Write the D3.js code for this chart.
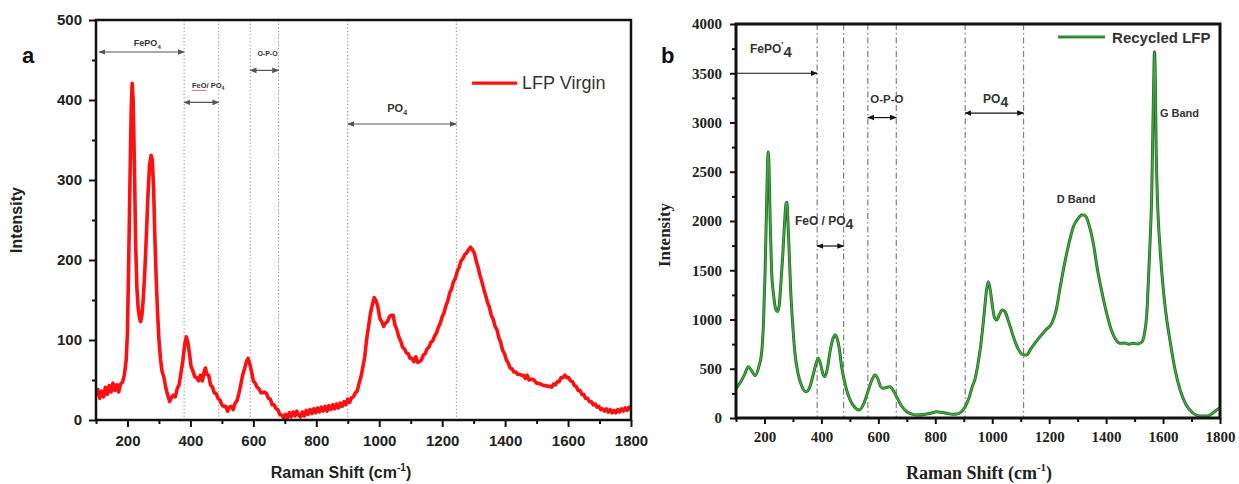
<!DOCTYPE html>
<html>
<head>
<meta charset="utf-8">
<script src="https://cdn.jsdelivr.net/npm/d3@7"></script>
<style>
  body { margin: 0; background: #fff; }
  svg { display: block; }
</style>
</head>
<body>
<div id="chart"></div>
<script>
// Raman spectra, [shift cm-1, intensity]
const virginSpectrum = [
  [100,30],[106,38],[112,27],[118,36],[124,29],[130,41],[136,32],[142,43],[148,35],[154,46],[160,37],[166,44],[172,35],[178,45],
  [184,47],[190,56],[196,75],[200,110],[204,200],[208,300],[212,390],[215,421],[218,400],[222,320],[226,220],[230,165],[234,140],
  [238,128],[242,123],[246,131],[250,150],[255,185],[260,230],[265,280],[270,318],[275,331],[279,325],[283,290],[287,230],[291,180],
  [295,140],[300,100],[305,76],[310,61],[316,53],[322,40],[328,31],[334,23],[340,28],[346,31],[352,29],[358,39],[364,44],[370,59],
  [376,74],[382,95],[387,104],[392,97],[397,83],[402,67],[408,61],[414,54],[420,53],[426,49],[432,56],[438,49],[444,61],[448,65],
  [452,57],[458,56],[464,44],[470,41],[476,34],[482,33],[488,27],[494,25],[500,19],[506,17],[512,17],[518,11],[524,16],[530,17],
  [536,13],[542,21],[548,24],[554,33],[560,44],[566,56],[572,64],[578,73],[583,77],[588,71],[594,61],[600,49],[606,46],[612,41],
  [618,39],[624,34],[630,34],[636,35],[642,33],[648,27],[654,26],[660,19],[666,19],[672,14],[678,13],[684,7],[690,6],[696,3],
  [702,7],[708,2],[714,9],[720,4],[726,10],[732,5],[738,11],[744,6],[750,4],[756,10],[762,5],[768,12],[774,7],[780,13],[786,8],
  [792,14],[798,9],[804,15],[810,10],[816,16],[822,11],[828,17],[834,11],[840,18],[846,13],[852,19],[858,14],[864,20],[870,15],
  [876,21],[882,17],[888,23],[894,19],[900,26],[906,22],[912,28],[918,29],[924,34],[930,36],[936,46],[942,54],[948,66],[954,79],
  [960,101],[966,117],[972,133],[978,144],[984,153],[990,149],[996,141],[1002,127],[1008,123],[1014,117],[1020,121],[1026,123],
  [1032,129],[1038,131],[1044,131],[1050,119],[1056,113],[1062,104],[1068,99],[1074,91],[1080,89],[1086,84],[1092,83],[1098,77],
  [1104,77],[1110,73],[1116,79],[1122,72],[1128,73],[1134,75],[1140,81],[1146,83],[1152,89],[1158,91],[1164,97],[1170,99],
  [1176,105],[1182,109],[1188,116],[1194,121],[1200,129],[1206,134],[1212,143],[1218,149],[1224,159],[1230,164],[1236,173],
  [1242,177],[1248,186],[1254,191],[1260,199],[1266,202],[1272,207],[1278,209],[1284,213],[1290,216],[1296,213],[1302,209],
  [1308,199],[1314,191],[1320,181],[1326,173],[1332,164],[1338,156],[1344,147],[1350,141],[1356,131],[1362,126],[1368,117],
  [1374,113],[1380,103],[1386,97],[1392,87],[1398,83],[1404,75],[1410,71],[1416,65],[1422,64],[1428,60],[1434,60],[1440,57],
  [1446,57],[1452,56],[1458,56],[1464,52],[1470,56],[1476,50],[1482,51],[1488,51],[1494,49],[1500,46],[1506,46],[1512,45],
  [1518,44],[1524,43],[1530,43],[1536,42],[1542,42],[1548,41],[1554,45],[1560,44],[1566,48],[1572,48],[1578,53],[1584,53],
  [1590,56],[1596,53],[1602,53],[1608,49],[1614,48],[1620,43],[1626,42],[1632,37],[1638,37],[1644,32],[1650,32],[1656,27],
  [1662,27],[1668,23],[1674,23],[1680,19],[1686,20],[1692,16],[1698,17],[1704,13],[1710,14],[1716,11],[1722,14],[1728,10],
  [1734,13],[1740,9],[1746,12],[1752,9],[1758,13],[1764,10],[1770,14],[1776,11],[1782,15],[1788,12],[1794,16],[1800,13]
];

const recycledSpectrum = [
  [100,300],[115,360],[130,440],[143,521],[155,480],[167,430],[180,520],[190,660],[197,1000],[202,1470],[207,2100],[211,2600],
  [213,2700],[216,2550],[220,2000],[225,1500],[232,1250],[240,1100],[246,1080],[252,1150],[258,1380],[264,1640],[270,1950],
  [276,2180],[279,2190],[283,1950],[288,1600],[292,1300],[298,1000],[307,660],[318,450],[330,330],[346,267],[360,320],[372,450],
  [382,560],[389,606],[396,560],[405,450],[413,419],[422,520],[430,670],[440,800],[448,843],[456,800],[463,700],[471,521],
  [482,360],[494,233],[505,160],[518,105],[533,81],[548,140],[565,284],[578,390],[588,436],[598,400],[608,320],[617,301],
  [627,310],[640,318],[648,300],[656,260],[664,216],[680,130],[700,64],[718,40],[735,30],[760,35],[780,45],[805,64],[825,55],
  [845,45],[860,38],[875,40],[890,60],[905,115],[918,200],[930,320],[940,400],[950,550],[958,700],[966,900],[973,1100],
  [980,1300],[986,1384],[992,1320],[1000,1150],[1008,1020],[1016,995],[1025,1050],[1035,1096],[1045,1080],[1055,1000],
  [1064,920],[1074,826],[1088,720],[1100,660],[1110,640],[1121,640],[1135,700],[1150,760],[1168,826],[1190,900],[1209,961],
  [1225,1100],[1240,1350],[1255,1580],[1270,1780],[1285,1942],[1300,2020],[1315,2060],[1322,2061],[1330,2040],[1340,1960],
  [1355,1773],[1370,1500],[1385,1280],[1402,1063],[1420,880],[1435,790],[1449,758],[1465,762],[1480,750],[1496,758],
  [1510,752],[1525,770],[1535,860],[1543,1063],[1550,1500],[1556,1900],[1560,2247],[1564,2900],[1567,3400],[1570,3719],
  [1573,3400],[1576,2700],[1580,2247],[1590,1700],[1601,1300],[1612,1020],[1624,792],[1640,520],[1660,284],[1680,140],
  [1706,47],[1730,20],[1753,20],[1770,40],[1788,81],[1800,100]
];

// tick values
const shiftTicks = [200, 400, 600, 800, 1000, 1200, 1400, 1600, 1800];
const shiftMinor = [100, 300, 500, 700, 900, 1100, 1300, 1500, 1700];
const virginTicks = [0, 100, 200, 300, 400, 500];
const virginMinor = [50, 150, 250, 350, 450];
const recycledTicks = [0, 500, 1000, 1500, 2000, 2500, 3000, 3500, 4000];
const recycledMinor = [250, 750, 1250, 1750, 2250, 2750, 3250, 3750];

// band boundaries (cm-1)
const virginBounds = [380, 490, 590, 680, 900, 1245];
const recycledBounds = [385, 478, 563, 663, 905, 1110];

// band ranges: [from, to, label, subscript]
const virginBands = [
  [110, 380, "FePO", "4"],
  [380, 490, "FeO/ PO", "4"],
  [590, 680, "O-P-O", ""],
  [900, 1245, "PO", "4"]
];
const recycledBands = [
  [563, 663, "O-P-O", ""],
  [385, 478, "FeO / PO", "4"],
  [905, 1110, "PO", "4"]
];

const width = 1239, height = 484;
const sans = "Liberation Sans, Arial, sans-serif";
const serif = "Liberation Serif, Times New Roman, serif";

const svg = d3.select("#chart").append("svg")
  .attr("width", width)
  .attr("height", height);

const defs = svg.append("defs");
function addMarker(id, color, size) {
  defs.append("marker")
    .attr("id", id)
    .attr("viewBox", "0 0 10 10")
    .attr("refX", 9).attr("refY", 5)
    .attr("markerWidth", size).attr("markerHeight", size)
    .attr("markerUnits", "userSpaceOnUse")
    .attr("orient", "auto-start-reverse")
    .append("path")
    .attr("d", "M0,1 L10,5 L0,9 z")
    .attr("fill", color);
}
addMarker("arrowGray", "#555", 7);
addMarker("arrowBlack", "#111", 7);

function drawAxes(g, x, y, opt) {
  const xAxis = g.append("g")
    .attr("transform", `translate(0,${y.range()[0]})`)
    .call(d3.axisBottom(x).tickValues(shiftTicks).tickSize(opt.major).tickPadding(opt.xPad).tickFormat(d3.format("d")));
  g.append("g")
    .attr("transform", `translate(0,${y.range()[0]})`)
    .call(d3.axisBottom(x).tickValues(shiftMinor).tickSize(opt.minor).tickFormat(""));
  const yAxis = g.append("g")
    .attr("transform", `translate(${x.range()[0]},0)`)
    .call(d3.axisLeft(y).tickValues(opt.yTicks).tickSize(opt.major).tickPadding(opt.yPad).tickFormat(d3.format("d")));
  g.append("g")
    .attr("transform", `translate(${x.range()[0]},0)`)
    .call(d3.axisLeft(y).tickValues(opt.yMinor).tickSize(opt.minor).tickFormat(""));

  g.selectAll(".domain").remove();
  g.selectAll(".tick line").attr("stroke", "#111").attr("stroke-width", 2);
  [xAxis, yAxis].forEach(a => a.selectAll("text")
    .attr("font-family", opt.font)
    .attr("font-weight", "bold")
    .attr("font-size", opt.tickSize + "px")
    .attr("fill", "#222"));
}

// bands drawn as arrows; label layout = [labelX, labelY, fontSize, subSize, anchor] in data units
function drawBands(g, x, y, bands, arrowY, layout, marker, color) {
  bands.forEach((b, i) => {
    const l = layout[i];
    g.append("line")
      .attr("x1", x(b[0])).attr("x2", x(b[1]))
      .attr("y1", y(arrowY[i])).attr("y2", y(arrowY[i]))
      .attr("stroke", color)
      .attr("stroke-width", 1.2)
      .attr("marker-start", `url(#${marker})`)
      .attr("marker-end", `url(#${marker})`);
    const t = g.append("text")
      .attr("x", x(l[0])).attr("y", y(l[1]))
      .attr("font-family", sans)
      .attr("font-weight", "bold")
      .attr("font-size", l[2] + "px")
      .attr("fill", "#333")
      .attr("text-anchor", l[4]);
    t.append("tspan").text(b[2]);
    if (b[3]) t.append("tspan").attr("dy", l[2] * 0.3).attr("font-size", l[3] + "px").text(b[3]);
  });
}

// ---------- panel a ----------
const xa = d3.scaleLinear().domain([100, 1800]).range([96, 631]);
const ya = d3.scaleLinear().domain([0, 500]).range([420, 20]);
const ga = svg.append("g");

defs.append("clipPath").attr("id", "clipA").append("rect")
  .attr("x", 96).attr("y", 20).attr("width", 535).attr("height", 400);

ga.selectAll("line.bound")
  .data(virginBounds)
  .enter()
  .append("line")
  .attr("class", "bound")
  .attr("x1", d => xa(d)).attr("x2", d => xa(d))
  .attr("y1", ya(500)).attr("y2", ya(0))
  .attr("stroke", "#9a9a9a")
  .attr("stroke-width", 1)
  .attr("stroke-dasharray", "1.5,2");

ga.append("path")
  .datum(virginSpectrum)
  .attr("clip-path", "url(#clipA)")
  .attr("fill", "none")
  .attr("stroke", "#ff1010")
  .attr("stroke-width", 3.6)
  .attr("stroke-linejoin", "round")
  .attr("d", d3.line().x(d => xa(d[0])).y(d => ya(d[1])));

ga.append("rect")
  .attr("x", 96).attr("y", 20).attr("width", 535).attr("height", 400)
  .attr("fill", "none").attr("stroke", "#111").attr("stroke-width", 2.5);

drawAxes(ga, xa, ya, {
  major: 7, minor: 4, xPad: 8, yPad: 7, yTicks: virginTicks, yMinor: virginMinor,
  font: sans, tickSize: 15
});

drawBands(ga, xa, ya, virginBands, [460, 397, 437, 370], [
  [263, 467, 9, 6, "middle"],
  [405, 415, 7.5, 5, "start"],
  [645, 455, 7, 5, "middle"],
  [1057, 385, 11, 7, "middle"]
], "arrowGray", "#555");
// the small FeO label had a red underline in the source figure
ga.append("line")
  .attr("x1", xa(405)).attr("x2", xa(450))
  .attr("y1", ya(412)).attr("y2", ya(412))
  .attr("stroke", "#e04040").attr("stroke-width", 0.8);

ga.append("line")
  .attr("x1", xa(1295)).attr("x2", xa(1438))
  .attr("y1", ya(421)).attr("y2", ya(421))
  .attr("stroke", "#ff1010").attr("stroke-width", 3.2);
ga.append("text")
  .attr("x", xa(1454)).attr("y", ya(421) + 6)
  .attr("font-family", sans)
  .attr("font-size", "18px")
  .attr("fill", "#333")
  .text("LFP Virgin");

ga.append("text")
  .attr("x", 22).attr("y", 63)
  .attr("font-family", sans)
  .attr("font-weight", "bold").attr("font-size", "22px").attr("fill", "#111")
  .text("a");

ga.append("text")
  .attr("transform", "translate(22,220) rotate(-90)")
  .attr("text-anchor", "middle")
  .attr("font-family", sans)
  .attr("font-weight", "bold").attr("font-size", "16px").attr("fill", "#222")
  .text("Intensity");

const xla = ga.append("text")
  .attr("x", 341).attr("y", 478)
  .attr("text-anchor", "middle")
  .attr("font-family", sans)
  .attr("font-weight", "bold").attr("font-size", "16px").attr("fill", "#222");
xla.append("tspan").text("Raman Shift (cm");
xla.append("tspan").attr("dy", -7).attr("font-size", "10px").text("-1");
xla.append("tspan").attr("dy", 7).text(")");

// ---------- panel b ----------
const xb = d3.scaleLinear().domain([100, 1800]).range([736, 1220]);
const yb = d3.scaleLinear().domain([0, 4000]).range([418, 24]);
const gb = svg.append("g");

defs.append("clipPath").attr("id", "clipB").append("rect")
  .attr("x", 736).attr("y", 24).attr("width", 484).attr("height", 394);

gb.selectAll("line.bound")
  .data(recycledBounds)
  .enter()
  .append("line")
  .attr("class", "bound")
  .attr("x1", d => xb(d)).attr("x2", d => xb(d))
  .attr("y1", yb(4000)).attr("y2", yb(0))
  .attr("stroke", "#808080")
  .attr("stroke-width", 1.2)
  .attr("stroke-dasharray", "6,3,1.5,3");

const recycledLine = d3.line().curve(d3.curveMonotoneX).x(d => xb(d[0])).y(d => yb(d[1]));
gb.append("path")
  .datum(recycledSpectrum)
  .attr("clip-path", "url(#clipB)")
  .attr("fill", "none")
  .attr("stroke", "#1f6f1f")
  .attr("stroke-width", 3)
  .attr("stroke-linejoin", "round")
  .attr("d", recycledLine);
gb.append("path")
  .datum(recycledSpectrum)
  .attr("clip-path", "url(#clipB)")
  .attr("fill", "none")
  .attr("stroke", "#45a845")
  .attr("stroke-width", 1.4)
  .attr("stroke-linejoin", "round")
  .attr("d", recycledLine);

gb.append("rect")
  .attr("x", 736).attr("y", 24).attr("width", 484).attr("height", 394)
  .attr("fill", "none").attr("stroke", "#111").attr("stroke-width", 3);

drawAxes(gb, xb, yb, {
  major: 6, minor: 4, xPad: 7, yPad: 8, yTicks: recycledTicks, yMinor: recycledMinor,
  font: serif, tickSize: 15
});

drawBands(gb, xb, yb, recycledBands, [3050, 1746, 3096], [
  [630, 3200, 11.5, 14, "middle"],
  [307, 1959, 12, 14, "start"],
  [968, 3198, 12, 14, "start"]
], "arrowBlack", "#111");

// FePO4 one-sided arrow from the axis
gb.append("line")
  .attr("x1", xb(100)).attr("x2", xb(385))
  .attr("y1", yb(3500)).attr("y2", yb(3500))
  .attr("stroke", "#111").attr("stroke-width", 1.2)
  .attr("marker-end", "url(#arrowBlack)");
const fe = gb.append("text")
  .attr("x", xb(149)).attr("y", yb(3706))
  .attr("font-family", sans)
  .attr("font-weight", "bold").attr("font-size", "12px").attr("fill", "#333");
fe.append("tspan").text("FePO");
fe.append("tspan").attr("dy", -5).attr("font-size", "9px").text("'");
fe.append("tspan").attr("dy", 9).attr("font-size", "15px").text("4");

gb.append("text")
  .attr("x", xb(1227)).attr("y", yb(2183))
  .attr("font-family", sans)
  .attr("font-weight", "bold").attr("font-size", "11px").attr("fill", "#333")
  .text("D Band");
gb.append("text")
  .attr("x", xb(1589)).attr("y", yb(3056))
  .attr("font-family", sans)
  .attr("font-weight", "bold").attr("font-size", "11px").attr("fill", "#333")
  .text("G Band");

gb.append("line")
  .attr("x1", xb(1231)).attr("x2", xb(1396))
  .attr("y1", yb(3868)).attr("y2", yb(3868))
  .attr("stroke", "#2f8f2f").attr("stroke-width", 3);
gb.append("text")
  .attr("x", xb(1421)).attr("y", yb(3868) + 6)
  .attr("font-family", sans)
  .attr("font-weight", "bold").attr("font-size", "15px").attr("fill", "#333")
  .text("Recycled LFP");

gb.append("text")
  .attr("x", 661).attr("y", 63)
  .attr("font-family", sans)
  .attr("font-weight", "bold").attr("font-size", "22px").attr("fill", "#111")
  .text("b");

gb.append("text")
  .attr("transform", "translate(670,235) rotate(-90)")
  .attr("text-anchor", "middle")
  .attr("font-family", serif)
  .attr("font-weight", "bold").attr("font-size", "17px").attr("fill", "#222")
  .text("Intensity");

const xlb = gb.append("text")
  .attr("x", 979).attr("y", 479)
  .attr("text-anchor", "middle")
  .attr("font-family", serif)
  .attr("font-weight", "bold").attr("font-size", "18px").attr("fill", "#222");
xlb.append("tspan").text("Raman Shift (cm");
xlb.append("tspan").attr("dy", -8).attr("font-size", "11px").text("-1");
xlb.append("tspan").attr("dy", 8).text(")");
</script>
</body>
</html>
